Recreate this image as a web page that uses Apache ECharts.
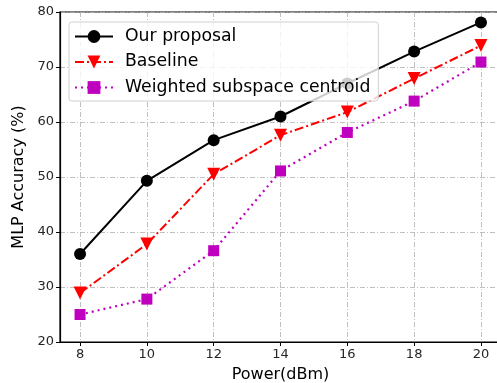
<!DOCTYPE html>
<html><head><meta charset="utf-8">
<script src="https://cdn.jsdelivr.net/npm/echarts@6/dist/echarts.min.js"></script>
<style>html,body{margin:0;padding:0;background:#fff}#c{width:497px;height:383px}</style>
</head><body><div id="c"></div>
<script>
var powers = [8, 10, 12, 14, 16, 18, 20];
var xTicks = [8, 10, 12, 14, 16, 18, 20];
var ourProposal = [36.0, 49.3, 56.7, 61.0, 67.0, 72.8, 78.1];
var baseline = [28.9, 37.8, 50.5, 57.6, 61.8, 67.9, 73.9];
var weighted = [25.0, 27.8, 36.6, 51.1, 58.1, 63.8, 70.9];
var names = ['Our proposal', 'Baseline', 'Weighted subspace centroid'];

function pairs(v){ return powers.map(function(p,i){return [p, v[i]];}); }
var font = 'DejaVu Sans';
var gridLine = {show:true, lineStyle:{color:'#b0b0b0', width:0.8, type:[5,2,1,2]}};
var chart = echarts.init(document.getElementById('c'), null, {renderer:'canvas'});
chart.setOption({
  animation:false,
  textStyle:{fontFamily:font},
  grid:{left:60, top:12, right:-4, bottom:41, show:true, borderColor:'#000', borderWidth:1.2,
        containLabel:false, outerBoundsMode:'none'},
  legend:{
    left:69, top:22, orient:'vertical', itemWidth:38, itemHeight:16, itemGap:8.5,
    padding:[6,8,5,5],
    backgroundColor:'rgba(255,255,255,0.8)', borderColor:'#d0d0d0', borderWidth:1, borderRadius:3,
    textStyle:{fontFamily:font, fontSize:17.3, color:'#000', padding:[0,0,0,7]},
    data:names
  },
  xAxis:{
    type:'value', min:7.4, max:20.6,
    name:'Power(dBm)', nameLocation:'middle', nameGap:25,
    nameTextStyle:{fontFamily:font, fontSize:16, color:'#000'},
    axisLine:{show:true, onZero:false, lineStyle:{color:'#000', width:1.2}},
    axisTick:{show:true, inside:false, length:4, customValues:xTicks, lineStyle:{color:'#000'}},
    axisLabel:{customValues:xTicks, fontFamily:font, fontSize:13, color:'#262626', margin:6},
    splitLine:gridLine
  },
  yAxis:{
    type:'value', min:20, max:80, interval:10,
    name:'MLP Accuracy (%)', nameLocation:'middle', nameGap:31,
    nameTextStyle:{fontFamily:font, fontSize:16, color:'#000'},
    axisLine:{show:true, onZero:false, lineStyle:{color:'#000', width:1.2}},
    axisTick:{show:true, inside:false, length:4, lineStyle:{color:'#000'}},
    axisLabel:{fontFamily:font, fontSize:13, color:'#262626', margin:6},
    splitLine:gridLine
  },
  series:[
    {name:names[0], type:'line', data:pairs(ourProposal), symbol:'circle', symbolSize:12,
     itemStyle:{color:'#000'}, lineStyle:{color:'#000', width:2}, z:3},
    {name:names[1], type:'line', data:pairs(baseline), symbol:'triangle', symbolRotate:180, symbolSize:13,
     itemStyle:{color:'#ff0000'}, lineStyle:{color:'#ff0000', width:2, type:[9,3,2,3]}, z:2},
    {name:names[2], type:'line', data:pairs(weighted), symbol:'rect', symbolSize:11,
     itemStyle:{color:'#bf00bf'}, lineStyle:{color:'#bf00bf', width:2.2, type:[2,4]}, z:1}
  ]
});
</script></body></html>
